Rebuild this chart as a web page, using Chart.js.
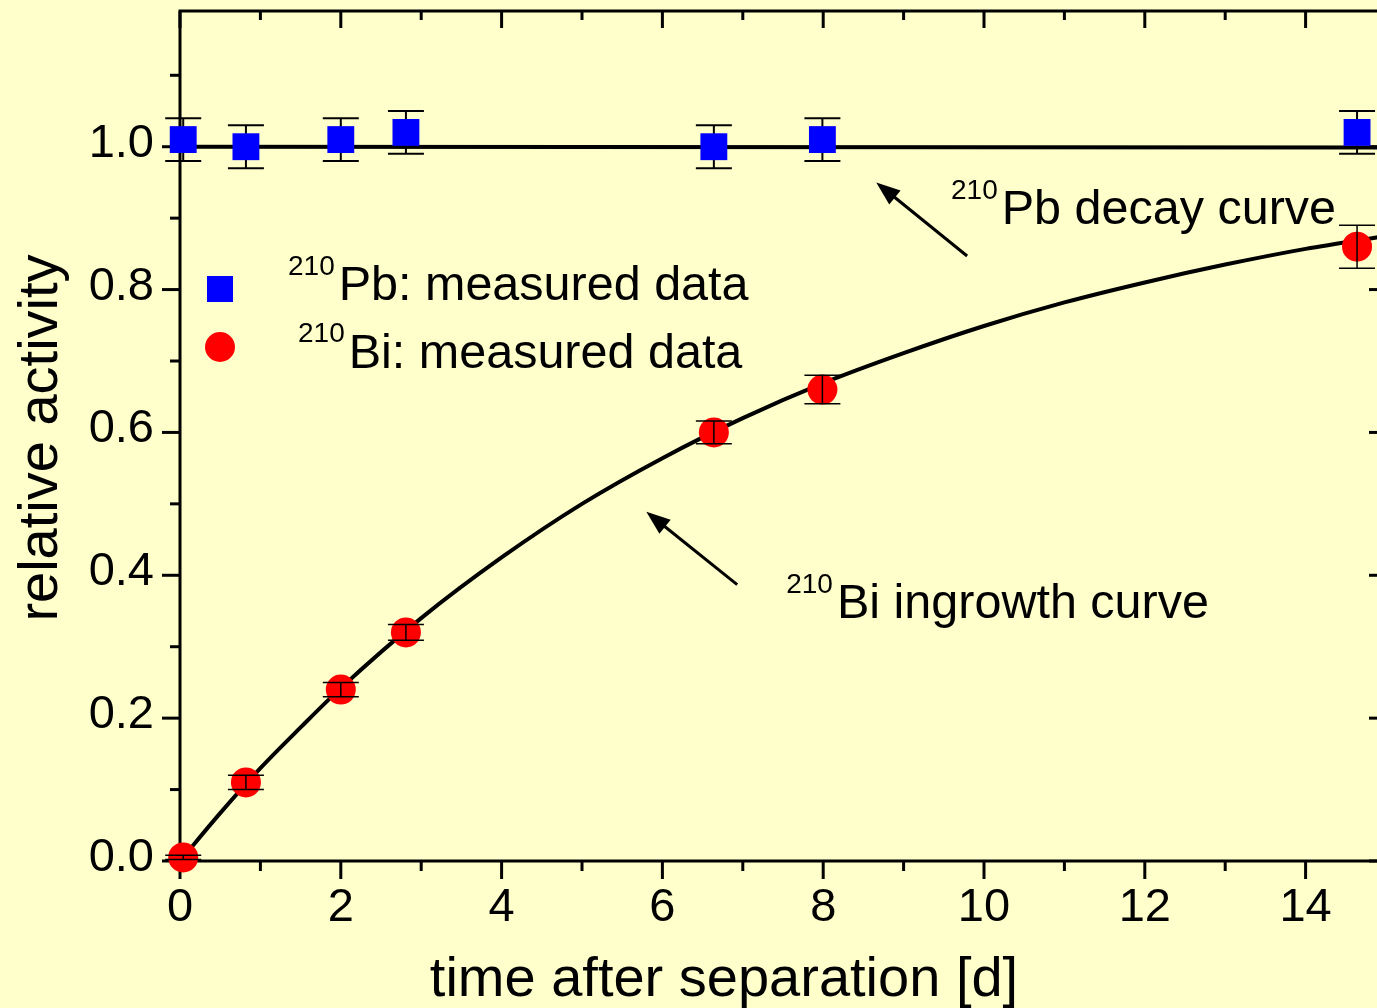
<!DOCTYPE html>
<html lang="en">
<head>
    <meta charset="UTF-8">
    <title>210Pb / 210Bi relative activity</title>
    <style>
        html, body { margin: 0; padding: 0; overflow: hidden; background: #ffffcc; }
        canvas { display: block; }
    </style>
</head>
<body>
    <canvas id="activityChart" width="1390" height="1008"></canvas>

    <script src="https://cdn.jsdelivr.net/npm/chart.js"></script>
    <script>
        // measured points (days after separation)
        const days = [0.04, 0.82, 2.0, 2.81, 6.64, 7.99, 14.64];
        const pbActivity = [1.01, 1.00, 1.01, 1.02, 1.00, 1.01, 1.02];
        const pbError = [0.03, 0.03, 0.03, 0.03, 0.03, 0.03, 0.03];
        const biActivity = [0.005, 0.11, 0.24, 0.32, 0.60, 0.66, 0.86];
        const biError = [0.003, 0.01, 0.01, 0.011, 0.016, 0.02, 0.03];

        // fitted curves
        const pbCurveDays = [0, 15];
        const pbCurve = [1.0, 0.999];
        const biCurveDays = [0, 0.5, 1, 1.5, 2, 3, 4, 5, 6, 7, 8, 9, 10, 11, 12, 13, 14, 15];
        const biCurve = [0, 0.067, 0.13, 0.187, 0.242, 0.34, 0.425, 0.50, 0.564, 0.62, 0.669, 0.711, 0.749, 0.782, 0.81, 0.835, 0.857, 0.875];

        // axis ticks
        const xTicks = [0, 2, 4, 6, 8, 10, 12, 14];
        const xMinorTicks = [1, 3, 5, 7, 9, 11, 13, 15];
        const yTicks = [0, 0.2, 0.4, 0.6, 0.8, 1.0];
        const yMinorTicks = [0.1, 0.3, 0.5, 0.7, 0.9, 1.1];

        const FONT = "'Liberation Sans', Arial, sans-serif";

        const toPoints = (xs, ys) => xs.map((v, i) => ({ x: v, y: ys[i] }));

        function line(ctx, x1, y1, x2, y2) {
            ctx.beginPath();
            ctx.moveTo(x1, y1);
            ctx.lineTo(x2, y2);
            ctx.stroke();
        }

        // "210" superscript followed by the rest of the label
        function isotopeText(ctx, x, y, rest, supRise) {
            ctx.textAlign = 'left';
            ctx.textBaseline = 'alphabetic';
            ctx.font = '28px ' + FONT;
            ctx.fillText('210', x, y - supRise);
            const w = ctx.measureText('210').width;
            ctx.font = '48.5px ' + FONT;
            ctx.fillText(rest, x + w + 4, y);
        }

        function arrow(ctx, x1, y1, x2, y2) {
            const ang = Math.atan2(y2 - y1, x2 - x1);
            const head = 24, half = 9;
            ctx.lineWidth = 3;
            line(ctx, x1, y1, x2 - Math.cos(ang) * head * 0.8, y2 - Math.sin(ang) * head * 0.8);
            ctx.beginPath();
            ctx.moveTo(x2, y2);
            ctx.lineTo(x2 - head * Math.cos(ang) + half * Math.sin(ang), y2 - head * Math.sin(ang) - half * Math.cos(ang));
            ctx.lineTo(x2 - head * Math.cos(ang) - half * Math.sin(ang), y2 - head * Math.sin(ang) + half * Math.cos(ang));
            ctx.closePath();
            ctx.fill();
        }

        function errorBars(chart, ys, errs, width) {
            const { ctx, scales: { x, y } } = chart;
            ctx.save();
            ctx.strokeStyle = '#000';
            ctx.lineWidth = width;
            days.forEach((d, i) => {
                const px = x.getPixelForValue(d);
                const top = y.getPixelForValue(ys[i] + errs[i]);
                const bot = y.getPixelForValue(ys[i] - errs[i]);
                line(ctx, px, top, px, bot);
                line(ctx, px - 18, top, px + 18, top);
                line(ctx, px - 18, bot, px + 18, bot);
            });
            ctx.restore();
        }

        // no extra room around the plot for half-label overhang
        function noPadding(s) {
            s.paddingTop = 0;
            s.paddingBottom = 0;
            s.paddingLeft = 0;
            s.paddingRight = 0;
        }

        // box frame with inward ticks on top/right, outward on bottom/left
        const framePlugin = {
            id: 'frame',
            beforeDatasetsDraw(chart) {
                const { ctx, chartArea: a, scales: { x, y } } = chart;
                ctx.save();
                ctx.strokeStyle = '#000';
                ctx.lineWidth = 3;
                ctx.strokeRect(a.left, a.top, a.right - a.left, a.bottom - a.top);
                xTicks.forEach(v => {
                    const p = x.getPixelForValue(v);
                    line(ctx, p, a.bottom, p, a.bottom + 18);
                    line(ctx, p, a.top, p, a.top + 17);
                });
                xMinorTicks.forEach(v => {
                    const p = x.getPixelForValue(v);
                    line(ctx, p, a.bottom, p, a.bottom + 10);
                    line(ctx, p, a.top, p, a.top + 9);
                });
                yTicks.forEach(v => {
                    const p = y.getPixelForValue(v);
                    line(ctx, a.left - 18, p, a.left, p);
                    line(ctx, a.right, p, a.right - 17, p);
                });
                yMinorTicks.forEach(v => {
                    const p = y.getPixelForValue(v);
                    line(ctx, a.left - 10, p, a.left, p);
                    line(ctx, a.right, p, a.right - 9, p);
                });
                ctx.restore();
            },
            // Pb error bars sit under the squares, Bi error bars over the circles
            beforeDatasetDraw(chart, args) {
                if (args.index === 2) errorBars(chart, pbActivity, pbError, 2);
            },
            afterDatasetDraw(chart, args) {
                if (args.index === 3) errorBars(chart, biActivity, biError, 1.5);
            },
            afterDatasetsDraw(chart) {
                const { ctx, chartArea: a, scales: { x, y } } = chart;
                ctx.save();
                ctx.fillStyle = '#000';
                ctx.strokeStyle = '#000';

                // axis titles
                ctx.font = '56px ' + FONT;
                ctx.textAlign = 'center';
                ctx.textBaseline = 'alphabetic';
                ctx.fillText('time after separation [d]', 724, 996);
                ctx.save();
                ctx.translate(57, 438);
                ctx.rotate(-Math.PI / 2);
                ctx.fillText('relative activity', 0, 0);
                ctx.restore();

                // legend
                ctx.fillStyle = '#0000ff';
                ctx.fillRect(a.left + 27, a.top + 265, 26, 26);
                ctx.fillStyle = '#ff0000';
                ctx.beginPath();
                ctx.arc(a.left + 40, a.top + 336, 15, 0, Math.PI * 2);
                ctx.fill();
                ctx.fillStyle = '#000';
                isotopeText(ctx, a.left + 108, a.top + 289, 'Pb: measured data', 25);
                isotopeText(ctx, a.left + 118, a.top + 357, 'Bi: measured data', 26);

                // curve annotations
                arrow(ctx, x.getPixelForValue(9.79), y.getPixelForValue(0.847),
                    x.getPixelForValue(8.66), y.getPixelForValue(0.95));
                isotopeText(ctx, x.getPixelForValue(9.59), y.getPixelForValue(0.892), 'Pb decay curve', 25);
                arrow(ctx, x.getPixelForValue(6.93), y.getPixelForValue(0.387),
                    x.getPixelForValue(5.80), y.getPixelForValue(0.489));
                isotopeText(ctx, x.getPixelForValue(7.54), y.getPixelForValue(0.340), 'Bi ingrowth curve', 25);
                ctx.restore();
            }
        };

        const ctx = document.getElementById('activityChart').getContext('2d');
        const activityChart = new Chart(ctx, {
            type: 'scatter',
            data: {
                datasets: [
                    {
                        label: '210Pb decay curve',
                        type: 'line',
                        data: toPoints(pbCurveDays, pbCurve),
                        borderColor: '#000',
                        borderWidth: 4,
                        pointRadius: 0,
                        fill: false,
                        order: 4
                    },
                    {
                        label: '210Bi ingrowth curve',
                        type: 'line',
                        data: toPoints(biCurveDays, biCurve),
                        borderColor: '#000',
                        borderWidth: 4,
                        pointRadius: 0,
                        cubicInterpolationMode: 'monotone',
                        fill: false,
                        order: 3
                    },
                    {
                        label: '210Pb: measured data',
                        data: toPoints(days, pbActivity),
                        pointStyle: 'rect',
                        pointRadius: 19,
                        pointBorderWidth: 0,
                        backgroundColor: '#0000ff',
                        borderColor: '#0000ff',
                        order: 2
                    },
                    {
                        label: '210Bi: measured data',
                        data: toPoints(days, biActivity),
                        pointStyle: 'circle',
                        pointRadius: 15,
                        pointBorderWidth: 0,
                        backgroundColor: '#ff0000',
                        borderColor: '#ff0000',
                        order: 1
                    }
                ]
            },
            options: {
                responsive: false,
                animation: false,
                clip: false,
                layout: { autoPadding: false, padding: { top: 11, right: 4, left: 0, bottom: 0 } },
                plugins: {
                    legend: { display: false },
                    tooltip: { enabled: false }
                },
                scales: {
                    x: {
                        type: 'linear',
                        min: 0,
                        max: 15,
                        grid: { display: false, drawTicks: false },
                        border: { display: false },
                        afterFit: s => { s.height = 147; noPadding(s); },
                        afterBuildTicks: s => { s.ticks = xTicks.map(v => ({ value: v })); },
                        ticks: {
                            color: '#000',
                            padding: 19,
                            maxRotation: 0,
                            font: { family: FONT, size: 47 },
                            callback: v => String(v)
                        }
                    },
                    y: {
                        min: 0,
                        max: 1.19,
                        grid: { display: false, drawTicks: false },
                        border: { display: false },
                        afterFit: s => { s.width = 180; noPadding(s); },
                        afterBuildTicks: s => { s.ticks = yTicks.map(v => ({ value: v })); },
                        ticks: {
                            color: '#000',
                            padding: 26,
                            labelOffset: -3,
                            font: { family: FONT, size: 47 },
                            callback: v => v.toFixed(1)
                        }
                    }
                }
            },
            plugins: [framePlugin]
        });
    </script>
</body>
</html>
